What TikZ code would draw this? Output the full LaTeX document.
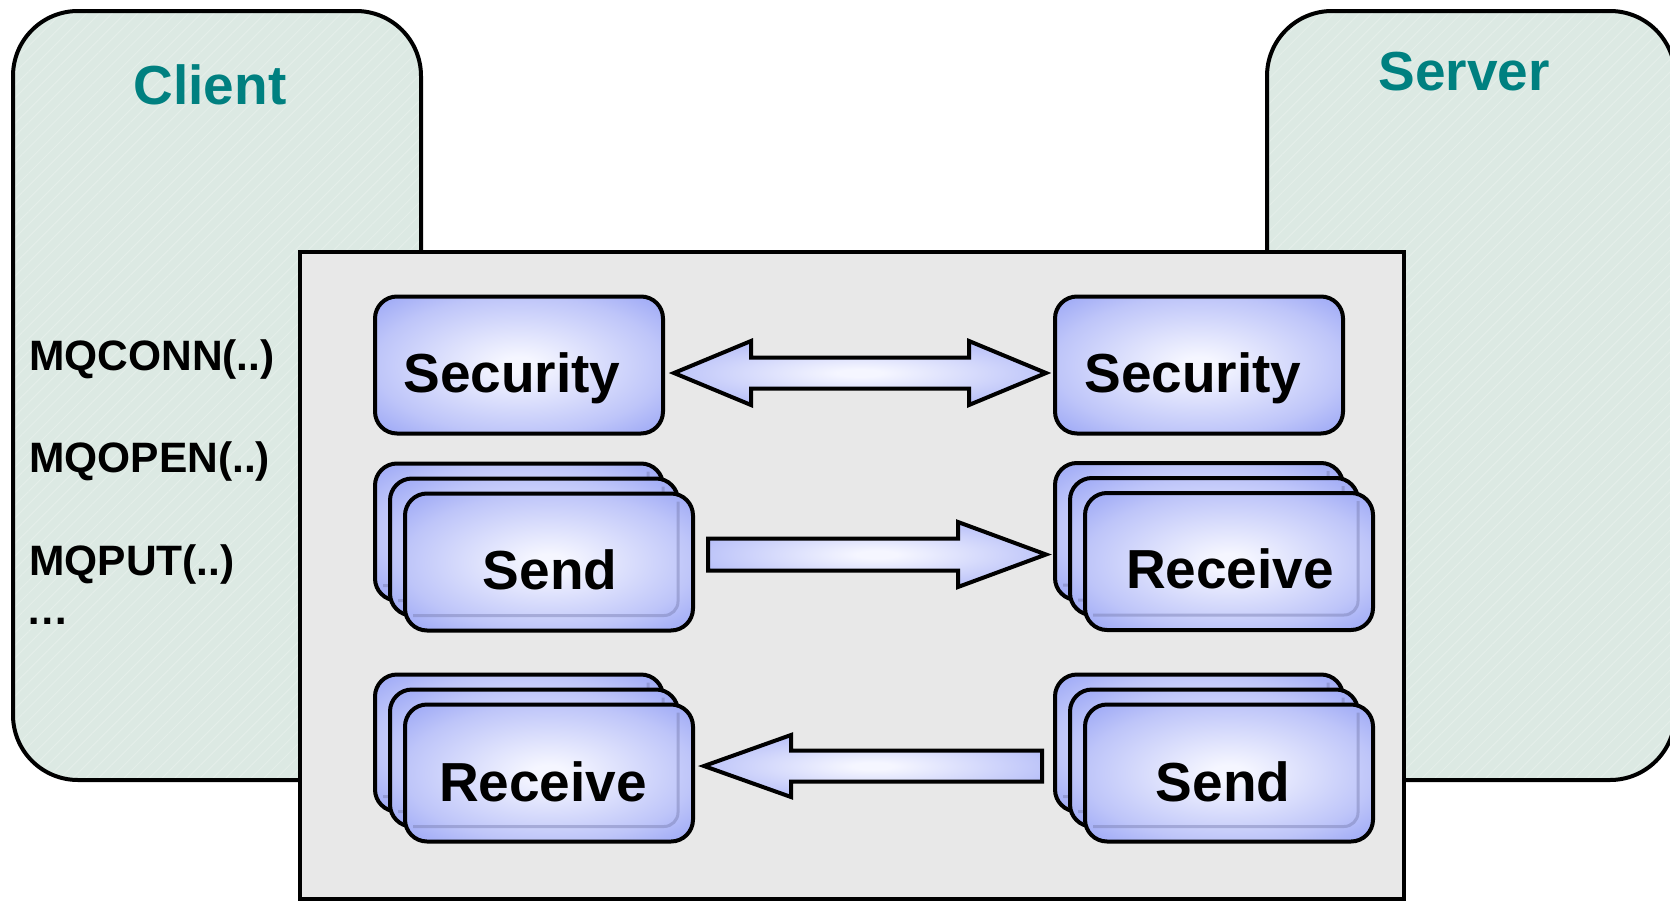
\documentclass[tikz,border=0pt]{standalone}
\usepackage{fontspec}
\setmainfont{Liberation Sans}
\usetikzlibrary{calc,patterns.meta}
\definecolor{clientbg}{RGB}{220,233,227}
\definecolor{hatchcol}{RGB}{228,238,233}
\definecolor{graybg}{RGB}{232,232,232}
\definecolor{titlecol}{RGB}{0,128,128}
\definecolor{glowin}{RGB}{245,246,255}
\definecolor{glowmid}{RGB}{190,197,249}
\definecolor{glowout}{RGB}{152,164,245}
\definecolor{bevelcol}{RGB}{120,125,175}
\pgfdeclareradialshading{blueglow}{\pgfpointorigin}{color(0bp)=(glowin); color(3bp)=(glowin); color(25bp)=(glowmid); color(36bp)=(glowout); color(50bp)=(glowout)}
\newcommand\dblarrow[5]{\path[blockarrow] let \p1=(#1), \p2=(#2) in
  (\x1,\y1) -- (\x1+#5,\y1+#4) -- (\x1+#5,\y1+#3) -- (\x2-#5,\y1+#3) -- (\x2-#5,\y1+#4) -- (\x2,\y1)
  -- (\x2-#5,\y1-#4) -- (\x2-#5,\y1-#3) -- (\x1+#5,\y1-#3) -- (\x1+#5,\y1-#4) -- cycle;}
% #5: horizontal offset (coordinate units) from tip to head base
\newcommand\sglarrow[5]{\path[blockarrow] let \p1=(#1), \p2=(#2), \p3=($(#2)+(#5,0)$) in
  (\x1,\y2+#3) -- (\x3,\y2+#3) -- (\x3,\y2+#4) -- (\x2,\y2)
  -- (\x3,\y2-#4) -- (\x3,\y2-#3) -- (\x1,\y2-#3) -- cycle;}
\newcommand\bevel[1]{\draw[bevelline] ($(#1.north east)+(-15,8)$) -- ($(#1.south east)+(-15,-15)$) -- ($(#1.south west)+(8,-15)$);}
\begin{document}
\begin{tikzpicture}[x=1pt,y=-1pt,
  outerbox/.style={draw=black, line width=4pt, rounded corners=65pt, inner sep=0pt, outer sep=0pt, minimum width=408pt, minimum height=769pt,
    preaction={fill=clientbg},
    preaction={pattern={Lines[angle=45,distance=9pt,line width=1pt]}, pattern color=hatchcol}},
  panel/.style={draw=black, line width=4pt, fill=graybg, inner sep=0pt, outer sep=0pt},
  bluebox/.style={draw=black, line width=4pt, rounded corners=22pt, shading=blueglow, minimum width=288pt, minimum height=137pt, inner sep=0pt, outer sep=0pt},
  boxtext/.style={font=\fontsize{55pt}{60pt}\selectfont\bfseries, anchor=base, inner sep=0pt},
  titletext/.style={font=\fontsize{55pt}{60pt}\selectfont\bfseries, text=titlecol, anchor=base, inner sep=0pt},
  apitext/.style={font=\fontsize{42.5pt}{46pt}\selectfont\bfseries, anchor=base west, inner sep=0pt},
  blockarrow/.style={draw=black, line width=4pt, line join=miter, shading=blueglow},
  bevelline/.style={draw=bevelcol, draw opacity=0.45, line width=3pt, rounded corners=14pt}
]
\useasboundingbox (0,0) rectangle (1670,902);
\fill[white] (0,0) rectangle (1670,902);

% client and server
\node[outerbox] (client) at (217,395.5) {};
\node[outerbox] (server) at (1471,395.5) {};
\node[titletext] (clientlbl) at (210,104) {Client};
\node[titletext] (serverlbl) at (1464,90) {Server};

\node[apitext] (conn) at (29,370) {MQCONN(..)};
\node[apitext] (open) at (29,472) {MQOPEN(..)};
\node[apitext] (put) at (29,575) {MQPUT(..)};
\node[apitext] (more) at (26,624) {…};

% channel panel
\node[panel, minimum width=1104pt, minimum height=647pt] (channel) at (852,575.5) {};

% security
\node[bluebox] (secL) at (519,365) {};
\node[boxtext] (secLt) at ($(secL.center)+(-7,27)$) {Security};
\node[bluebox] (secR) at (1199,365) {};
\node[boxtext] (secRt) at ($(secR.center)+(-6,27)$) {Security};

% send (client) stack
\node[bluebox] (sendLb) at (519,532) {}; \bevel{sendLb}
\node[bluebox] (sendLm) at (534,547) {}; \bevel{sendLm}
\node[bluebox] (sendLf) at (549,562) {}; \bevel{sendLf}
\node[boxtext] (sendLt) at ($(sendLf.center)+(1,27)$) {Send};

% receive (server) stack
\node[bluebox] (recvRb) at (1199,531.5) {}; \bevel{recvRb}
\node[bluebox] (recvRm) at (1214,546.5) {}; \bevel{recvRm}
\node[bluebox] (recvRf) at (1229,561.5) {}; \bevel{recvRf}
\node[boxtext] (recvRt) at ($(recvRf.center)+(1,27)$) {Receive};

% receive (client) stack
\node[bluebox] (recvLb) at (519,743) {}; \bevel{recvLb}
\node[bluebox] (recvLm) at (534,758) {}; \bevel{recvLm}
\node[bluebox] (recvLf) at (549,773) {}; \bevel{recvLf}
\node[boxtext] (recvLt) at ($(recvLf.center)+(-6,28)$) {Receive};

% send (server) stack
\node[bluebox] (sendRb) at (1199,743) {}; \bevel{sendRb}
\node[bluebox] (sendRm) at (1214,758) {}; \bevel{sendRm}
\node[bluebox] (sendRf) at (1229,773) {}; \bevel{sendRf}
\node[boxtext] (sendRt) at ($(sendRf.center)+(-6,28)$) {Send};

% arrows
\coordinate (secA1) at ($(secL.east)+(11,8)$);
\coordinate (secA2) at ($(secR.west)+(-9,8)$);
\dblarrow{secA1}{secA2}{15.5pt}{32pt}{77pt}

\coordinate (sndA1) at ($(sendLf.east)+(15,-7)$);
\coordinate (sndA2) at ($(recvRb.west)+(-9,23)$);
\sglarrow{sndA1}{sndA2}{16pt}{32.5pt}{-88}

\coordinate (rcvA1) at ($(sendRb.west)+(-13,23)$);
\coordinate (rcvA2) at ($(recvLf.east)+(11,-7)$);
\sglarrow{rcvA1}{rcvA2}{15.5pt}{31pt}{87}
\end{tikzpicture}
\end{document}
